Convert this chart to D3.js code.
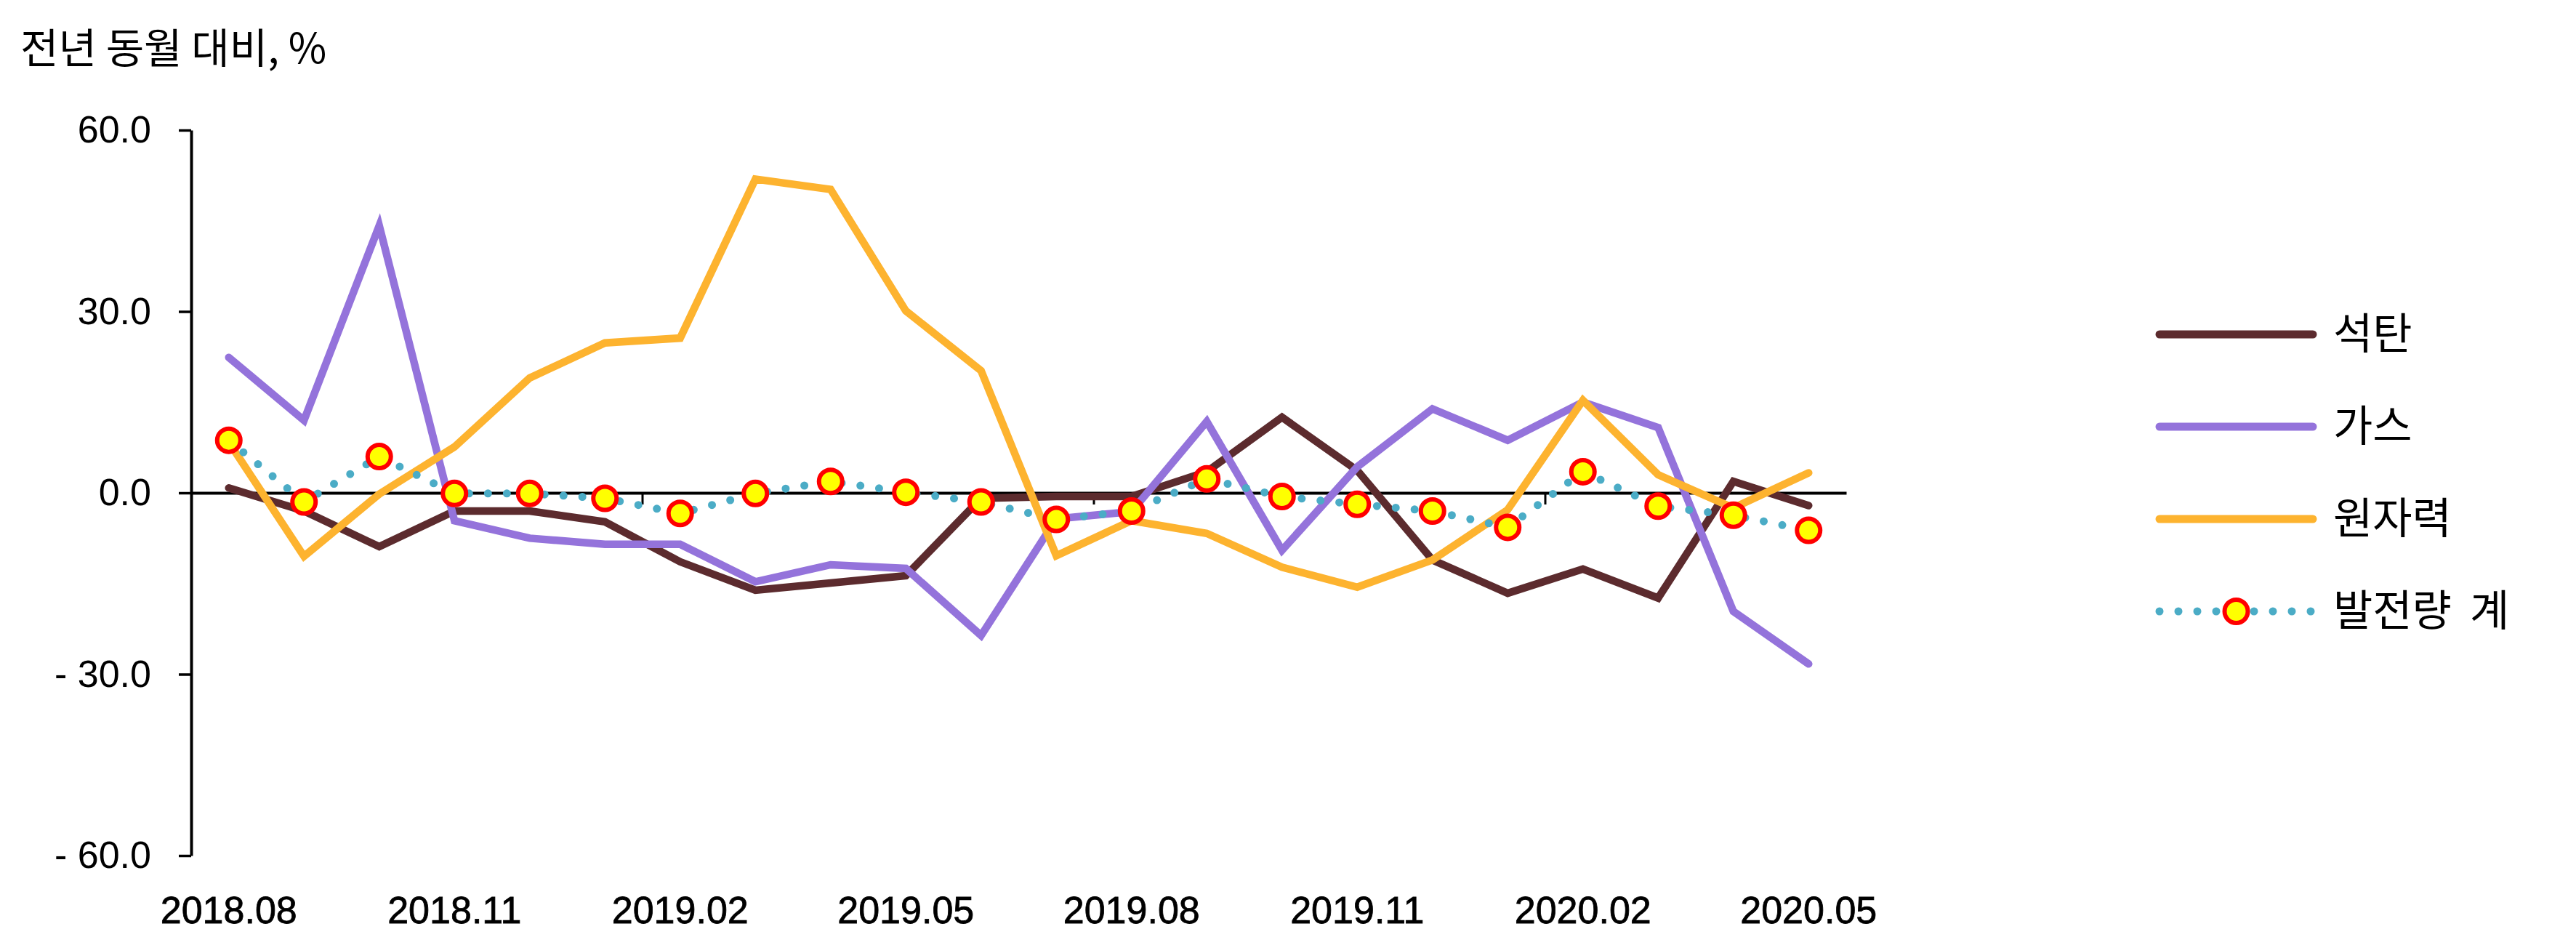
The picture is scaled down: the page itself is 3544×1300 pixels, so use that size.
<!DOCTYPE html>
<html>
<head>
<meta charset="utf-8">
<script src="https://cdn.jsdelivr.net/npm/d3@7"></script>
<style>
  html, body { margin: 0; padding: 0; background: #ffffff; }
  svg { display: block; }
</style>
</head>
<body>
<script>
// ---- data ----
const months = ["2018.08","2018.09","2018.10","2018.11","2018.12","2019.01","2019.02","2019.03",
  "2019.04","2019.05","2019.06","2019.07","2019.08","2019.09","2019.10","2019.11","2019.12",
  "2020.01","2020.02","2020.03","2020.04","2020.05"];
const coal    = [0.8, -3.0, -8.9, -3.0, -3.0, -4.8, -11.4, -16.1, -14.9, -13.7, -0.9, -0.6, -0.6, 3.5, 12.5, 3.7, -11.1, -16.6, -12.6, -17.4, 1.9, -2.1];
const gas     = [22.4, 12.0, 44.2, -4.6, -7.5, -8.5, -8.5, -14.7, -11.9, -12.5, -23.6, -4.3, -3.1, 11.8, -9.5, 4.3, 13.9, 8.7, 15.0, 10.8, -19.6, -28.3];
const nuclear = [8.4, -10.5, -0.2, 7.6, 19.0, 24.8, 25.6, 51.9, 50.2, 30.1, 20.2, -10.4, -4.6, -6.7, -12.3, -15.6, -11.1, -2.8, 15.3, 3.0, -2.5, 3.3];
const total   = [8.7, -1.5, 6.0, -0.1, -0.1, -0.9, -3.4, -0.1, 1.9, 0.1, -1.5, -4.4, -3.0, 2.3, -0.6, -1.9, -3.0, -5.7, 3.5, -2.2, -3.7, -6.2];
const seriesNames = ["석탄", "가스", "원자력", "발전량 계"];
const yTicks = [60, 30, 0, -30, -60];
const xLabels = ["2018.08","2018.11","2019.02","2019.05","2019.08","2019.11","2020.02","2020.05"];
const xTickBoundaries = ["2019.02","2019.08","2020.02"];
const yTitle = "전년 동월 대비, %";

// ---- layout ----
const W = 3544, H = 1300;
const latin = "'Liberation Sans', Arial, sans-serif";
const korean = "'Noto Sans CJK KR', 'Noto Sans', sans-serif";
const colors = { coal: "#5C2B2E", gas: "#9473DB", nuclear: "#FDB32F", total: "#4BACC6" };

const svg = d3.select("body").append("svg").attr("width", W).attr("height", H);
svg.append("rect").attr("width", W).attr("height", H).attr("fill", "#fff");

const x = d3.scaleBand().domain(months).range([263, 2540]).padding(0);
const y = d3.scaleLinear().domain([-60, 60]).range([1177, 179]);
const cx = m => x(m) + x.bandwidth() / 2;

// title
svg.append("text").attr("x", 28).attr("y", 87)
  .attr("font-family", korean).attr("font-size", 57).attr("fill", "#000")
  .text(yTitle);

// y axis
const fmt = v => v < 0 ? "- " + Math.abs(v).toFixed(1) : v.toFixed(1);
const yAxis = svg.append("g").attr("transform", "translate(263,0)")
  .call(d3.axisLeft(y).tickValues(yTicks).tickSize(17).tickSizeOuter(0).tickPadding(38).tickFormat(fmt));
yAxis.select(".domain").attr("stroke", "#000").attr("stroke-width", 4);
yAxis.selectAll(".tick line").attr("stroke", "#000").attr("stroke-width", 3.5);
yAxis.selectAll(".tick text").attr("font-family", latin).attr("font-size", 52).attr("fill", "#000");

// zero line (category axis crossing at 0)
const xAxis = svg.append("g").attr("transform", `translate(0,${y(0)})`)
  .call(d3.axisBottom(x).tickValues([]).tickSizeOuter(0));
xAxis.select(".domain").attr("stroke", "#000").attr("stroke-width", 4);
xAxis.selectAll(".bt").data(xTickBoundaries).enter().append("line")
  .attr("x1", d => x(d)).attr("x2", d => x(d)).attr("y1", 0).attr("y2", 16)
  .attr("stroke", "#000").attr("stroke-width", 3);

// bottom labels
const xLab = svg.append("g").attr("transform", `translate(0,${y(-60)})`)
  .call(d3.axisBottom(x).tickValues(xLabels).tickSize(0).tickPadding(56));
xLab.select(".domain").remove();
xLab.selectAll(".tick text").attr("font-family", latin).attr("font-size", 52).attr("fill", "#000")
  .attr("stroke", "#000").attr("stroke-width", 0.8);

// lines
const LW = 10.5;
const line = d3.line().x((d, i) => cx(months[i])).y(d => y(d));
function drawLine(data, color) {
  svg.append("path").datum(data).attr("d", line)
    .attr("fill", "none").attr("stroke", color).attr("stroke-width", LW)
    .attr("stroke-linecap", "round").attr("stroke-linejoin", "miter");
}
drawLine(coal, colors.coal);
drawLine(gas, colors.gas);
drawLine(nuclear, colors.nuclear);

svg.append("path").datum(total).attr("d", line)
  .attr("fill", "none").attr("stroke", colors.total).attr("stroke-width", 11)
  .attr("stroke-linecap", "round").attr("stroke-dasharray", "0 26");
svg.selectAll(".mk").data(total).enter().append("circle")
  .attr("cx", (d, i) => cx(months[i])).attr("cy", d => y(d)).attr("r", 16)
  .attr("fill", "#FFFF00").attr("stroke", "#FF0000").attr("stroke-width", 6);

// legend
const legX1 = 2971, legX2 = 3182, legTextX = 3210;
const legColors = [colors.coal, colors.gas, colors.nuclear, colors.total];
seriesNames.forEach((name, i) => {
  const ly = 460 + i * 127;
  const g = svg.append("g");
  if (i < 3) {
    g.append("line").attr("x1", legX1).attr("x2", legX2).attr("y1", ly).attr("y2", ly)
      .attr("stroke", legColors[i]).attr("stroke-width", 11).attr("stroke-linecap", "round");
  } else {
    g.append("line").attr("x1", legX1).attr("x2", legX2).attr("y1", ly).attr("y2", ly)
      .attr("stroke", legColors[i]).attr("stroke-width", 11).attr("stroke-linecap", "round")
      .attr("stroke-dasharray", "0 26");
    g.append("circle").attr("cx", (legX1 + legX2) / 2).attr("cy", ly).attr("r", 16)
      .attr("fill", "#FFFF00").attr("stroke", "#FF0000").attr("stroke-width", 6);
  }
  g.append("text").attr("x", legTextX).attr("y", ly + 20)
    .attr("font-family", korean).attr("font-size", 59).attr("fill", "#000")
    .attr("word-spacing", 12).text(name);
});
</script>
</body>
</html>
